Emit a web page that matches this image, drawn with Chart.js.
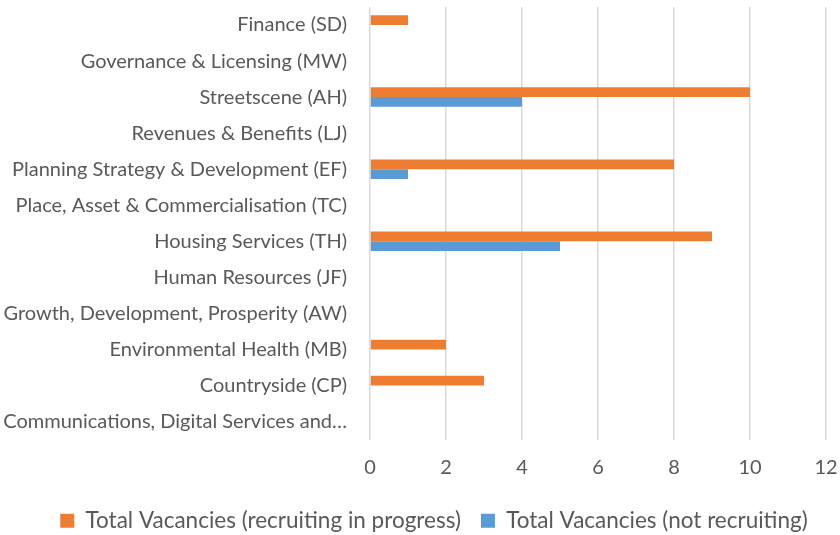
<!DOCTYPE html>
<html>
<head>
<meta charset="utf-8">
<script src="https://cdn.jsdelivr.net/npm/chart.js@4/dist/chart.umd.min.js"></script>
<style>
  html, body { margin: 0; padding: 0; background: #ffffff; }
  #wrap { width: 840px; height: 535px; }
</style>
</head>
<body>
<div id="wrap"><canvas id="vacancyChart" width="840" height="535"></canvas></div>
<script>
// categories, top to bottom
const departments = [
   "Finance (SD)",
   "Governance & Licensing (MW)",
   "Streetscene (AH)",
   "Revenues & Benefits (LJ)",
   "Planning Strategy & Development (EF)",
   "Place, Asset & Commercialisation (TC)",
   "Housing Services (TH)",
   "Human Resources (JF)",
   "Growth, Development, Prosperity (AW)",
   "Environmental Health (MB)",
   "Countryside (CP)",
   "Communications, Digital Services and\u2026",
];

const recruitingValues = [1, 0, 10, 0, 8, 0, 9, 0, 0, 2, 3, 0];
const notRecruitingValues = [0, 0, 4, 0, 1, 0, 5, 0, 0, 0, 0, 0];

const xTicks = [0, 2, 4, 6, 8, 10, 12];

const textColor = "#595959";
const fontFamily = "Lato, 'Open Sans', sans-serif";

// legend sits a bit right of centre in the original
const shiftLegend = {
   id: "shiftLegend",
   afterLayout(chart) {
      const lg = chart.legend;
      if (lg) {
         lg.left += 21;
         lg.right += 21;
      }
   },
};

const ctx = document.getElementById("vacancyChart").getContext("2d");

new Chart(ctx, {
   type: "bar",
   data: {
      labels: departments,
      datasets: [
         {
            label: "Total Vacancies (recruiting in progress)",
            data: recruitingValues,
            backgroundColor: "#ED7D31",
            categoryPercentage: 0.54,
            barPercentage: 1,
         },
         {
            label: "Total Vacancies (not recruiting)",
            data: notRecruitingValues,
            backgroundColor: "#5B9BD5",
            categoryPercentage: 0.54,
            barPercentage: 1,
         },
      ],
   },
   options: {
      indexAxis: "y",
      responsive: false,
      animation: false,
      layout: { padding: { top: 7, right: 14, left: 0, bottom: -7 } },
      plugins: {
         legend: {
            position: "bottom",
            labels: {
               boxWidth: 14,
               boxHeight: 14,
               padding: 20,
               color: textColor,
               font: { family: fontFamily, size: 22.5 },
            },
         },
         tooltip: { enabled: false },
      },
      scales: {
         x: {
            min: 0,
            max: 12,
            afterBuildTicks: (scale) => {
               scale.ticks = xTicks.map((v) => ({ value: v }));
            },
            afterFit: (scale) => {
               scale.height = 50;
               scale.paddingLeft = 0;
               scale.paddingRight = 0;
            },
            grid: { color: "#D9D9D9", lineWidth: 1.5, drawTicks: false },
            border: { display: false },
            ticks: {
               padding: 16,
               color: textColor,
               font: { family: fontFamily, size: 20 },
            },
         },
         y: {
            afterFit: (scale) => {
               scale.width = 370;
               scale.paddingTop = 0;
               scale.paddingBottom = 0;
            },
            grid: { display: false },
            border: { display: false },
            ticks: {
               padding: 15,
               autoSkip: false,
               color: textColor,
               font: { family: fontFamily, size: 20 },
            },
         },
      },
   },
   plugins: [shiftLegend],
});
</script>
</body>
</html>
